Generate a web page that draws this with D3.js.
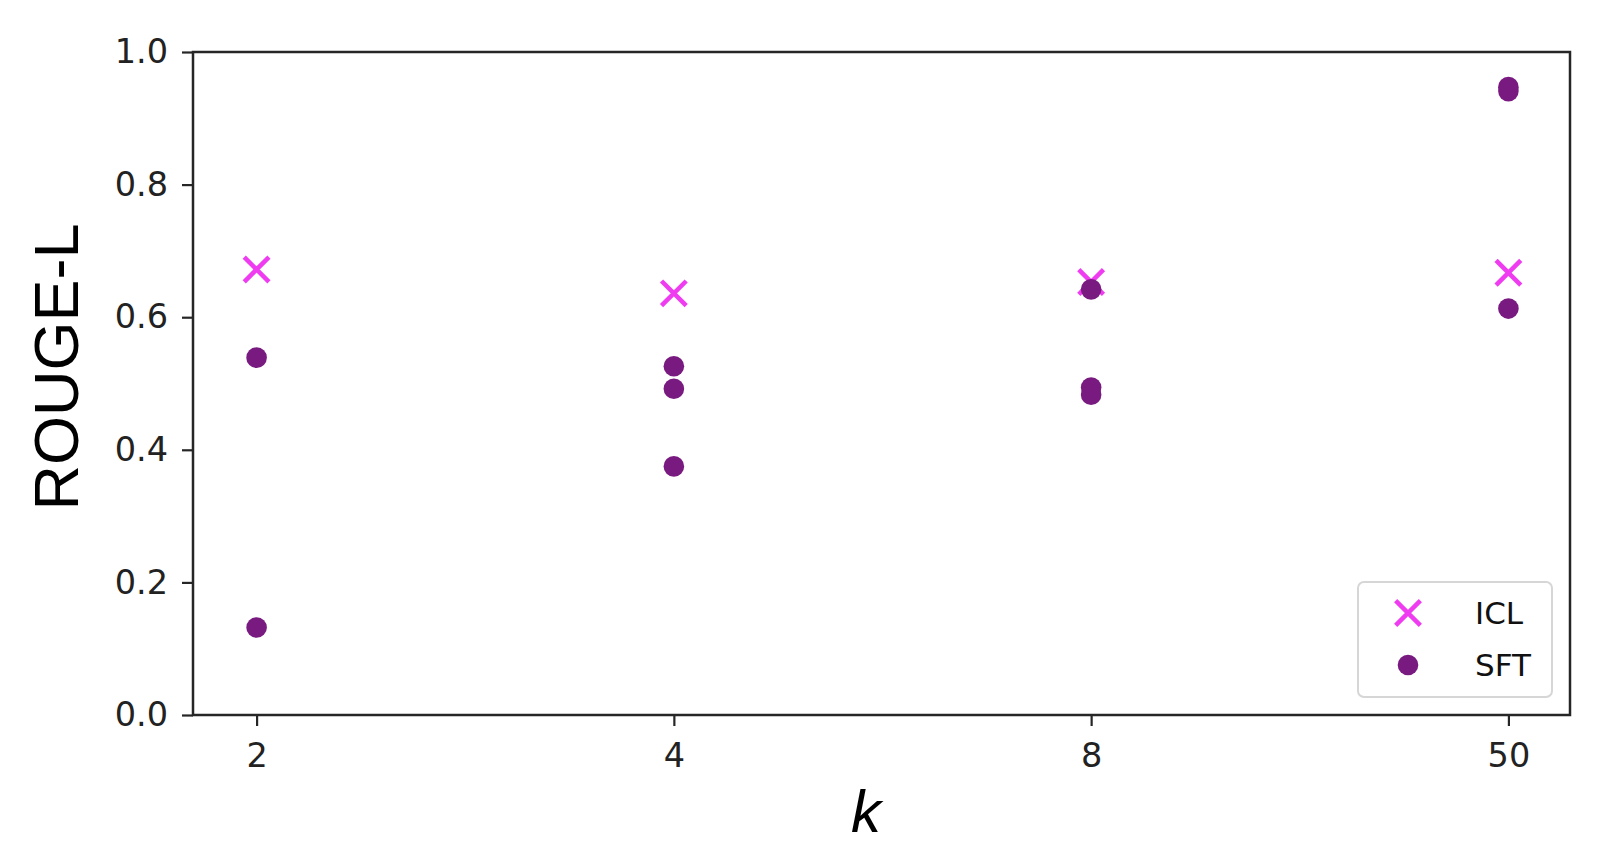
<!DOCTYPE html>
<meta charset="utf-8">
<style>
    body { margin: 0; background: #fff; }
    .tick text { font-family: "DejaVu Sans", sans-serif; font-size: 33.5px; fill: #222; }
    .legend text { font-family: "DejaVu Sans", sans-serif; font-size: 31px; fill: #111; }
</style>
<body>
<svg width="1608" height="862"></svg>
</body>
<script src="https://d3js.org/d3.v7.min.js"></script>
<script>
    // values
    const kLabels = ["2", "4", "8", "50"];
    const yTicks = [0.0, 0.2, 0.4, 0.6, 0.8, 1.0];
    const iclK = ["2", "4", "8", "50"];
    const iclScore = [0.672, 0.636, 0.653, 0.667];
    const sftK = ["2", "2", "4", "4", "4", "8", "8", "8", "50", "50", "50"];
    const sftScore = [0.539, 0.132, 0.526, 0.492, 0.375, 0.642, 0.494, 0.483, 0.947, 0.941, 0.613];

    const svg = d3.select("svg");
    const m = {left: 193, right: 1570, top: 52, bottom: 715};

    const x = d3.scalePoint().domain(kLabels).range([m.left + 1, m.right + 1]).padding(0.15);
    const y = d3.scaleLinear().domain([0, 1]).range([m.bottom, m.top]);

    const icl = "#ef3cf1", sft = "#791a80";

    // axes
    const xAxis = svg.append("g")
        .attr("transform", "translate(0," + m.bottom + ")")
        .call(d3.axisBottom(x).tickSize(11).tickPadding(17));
    const yAxis = svg.append("g")
        .attr("transform", "translate(" + m.left + ",0)")
        .call(d3.axisLeft(y).tickValues(yTicks).tickFormat(d3.format(".1f")).tickSize(11).tickPadding(14));
    [xAxis, yAxis].forEach(a => {
        a.select(".domain").remove();
        a.selectAll(".tick line").attr("stroke", "#262626").attr("stroke-width", 2.2);
    });

    svg.append("rect")
        .attr("x", m.left).attr("y", m.top)
        .attr("width", m.right - m.left).attr("height", m.bottom - m.top)
        .attr("fill", "none").attr("stroke", "#262626").attr("stroke-width", 2.5);

    // ICL crosses
    const cross = d3.symbol().type(d3.symbolX).size(400);
    svg.append("g").selectAll("path")
        .data(iclK.map((k, i) => ({k: k, v: iclScore[i]})))
        .enter().append("path")
        .attr("d", cross)
        .attr("transform", d => "translate(" + x(d.k) + "," + y(d.v) + ")")
        .attr("fill", "none").attr("stroke", icl).attr("stroke-width", 4.5);

    // SFT dots
    svg.append("g").selectAll("circle")
        .data(sftK.map((k, i) => ({k: k, v: sftScore[i]})))
        .enter().append("circle")
        .attr("cx", d => x(d.k))
        .attr("cy", d => y(d.v))
        .attr("r", 10.3)
        .attr("fill", sft);

    // axis titles
    svg.append("text")
        .attr("transform", "translate(78,367) rotate(-90)")
        .attr("text-anchor", "middle")
        .style("font-family", "'Liberation Sans', Arial, sans-serif")
        .style("font-size", "63px")
        .text("ROUGE-L");

    svg.append("text")
        .attr("x", 866).attr("y", 832)
        .attr("text-anchor", "middle")
        .style("font-family", "'Liberation Sans', Arial, sans-serif")
        .style("font-style", "italic")
        .style("font-size", "60px")
        .text("k");

    // legend
    const leg = svg.append("g").attr("class", "legend");
    leg.append("rect")
        .attr("x", 1358).attr("y", 582).attr("width", 194).attr("height", 115)
        .attr("rx", 6).attr("fill", "#fff").attr("fill-opacity", 0.8)
        .attr("stroke", "#d6d6d6").attr("stroke-width", 2);
    leg.append("path")
        .attr("d", cross)
        .attr("transform", "translate(1408,613)")
        .attr("fill", "none").attr("stroke", icl).attr("stroke-width", 4.5);
    leg.append("circle")
        .attr("cx", 1408).attr("cy", 665).attr("r", 10.3).attr("fill", sft);
    leg.append("text").attr("x", 1475).attr("y", 624).text("ICL");
    leg.append("text").attr("x", 1475).attr("y", 676).text("SFT");
</script>
